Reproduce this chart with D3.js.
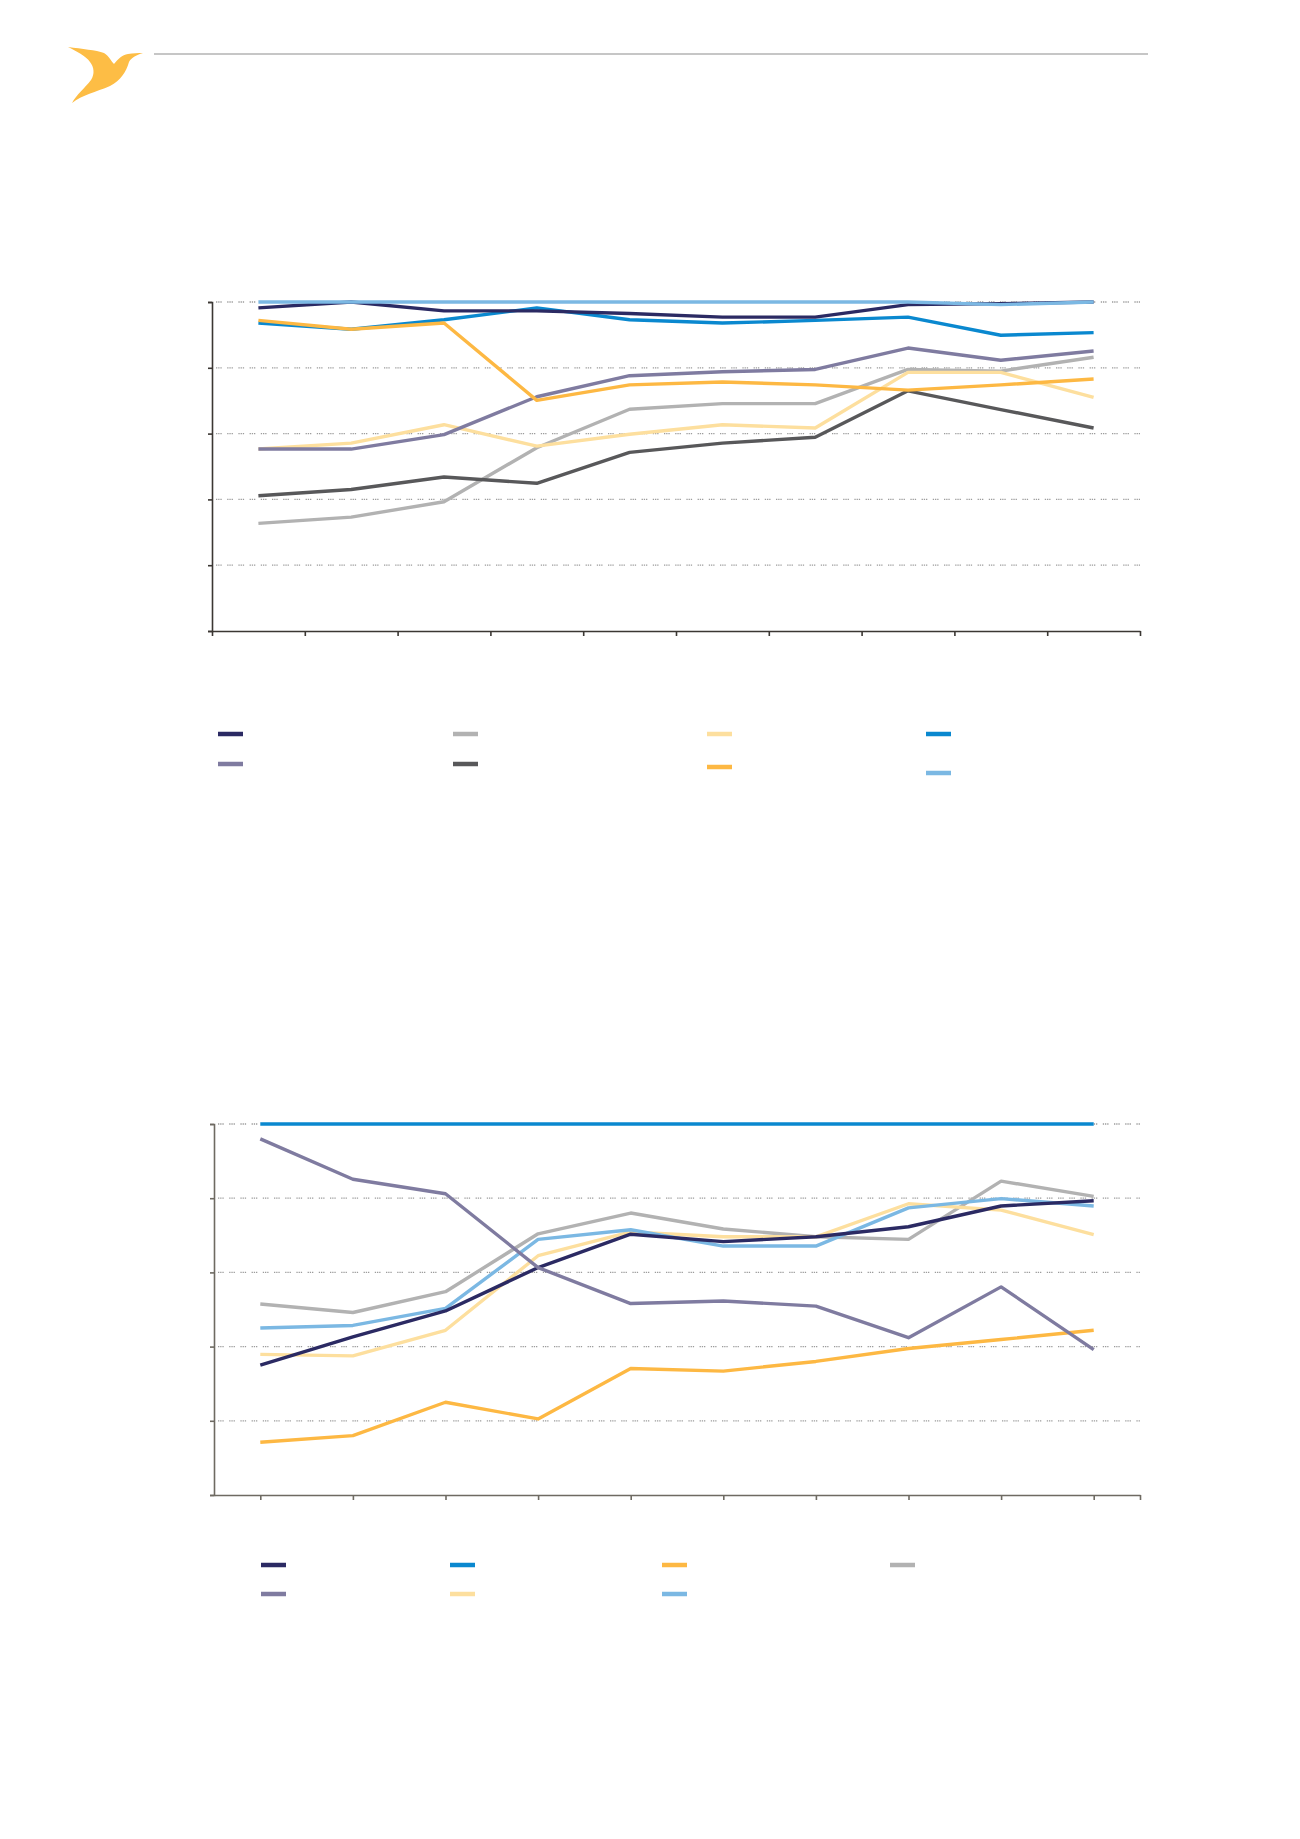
<!DOCTYPE html>
<html>
<head>
<meta charset="utf-8">
<script src="https://cdn.jsdelivr.net/npm/d3@7"></script>
<style>
  html, body { margin: 0; padding: 0; background: #ffffff; }
  svg { display: block; font-family: "Open Sans", "Noto Sans", sans-serif; }
</style>
</head>
<body>
<svg id="page" width="1300" height="1839"></svg>
<script>
// ---------- Data ----------
const periods = ["1", "2", "3", "4", "5", "6", "7", "8", "9", "10"];
const gridTicks = [0, 20, 40, 60, 80, 100];

// Chart 1 series (0–100 scale)
const c1Navy      = [98.2, 100, 97.3, 97.3, 96.5, 95.4, 95.4, 99.2, 99.5, 100];
const c1Purple    = [55.3, 55.3, 59.7, 71.2, 77.6, 78.8, 79.5, 86.0, 82.3, 85.1];
const c1LightGray = [32.7, 34.6, 39.3, 55.7, 67.4, 69.1, 69.1, 79.5, 79.0, 83.2];
const c1DarkGray  = [41.1, 43.0, 46.8, 44.9, 54.3, 57.1, 58.9, 73.0, 67.3, 61.7];
const c1PaleYel   = [55.3, 57.1, 62.7, 56.2, 59.8, 62.7, 61.7, 78.6, 78.6, 71.0];
const c1Orange    = [94.4, 91.7, 93.6, 70.1, 74.8, 75.7, 74.8, 73.2, 74.8, 76.6];
const c1Blue      = [93.6, 91.7, 94.6, 98.2, 94.6, 93.6, 94.4, 95.4, 89.9, 90.7];
const c1LightBlue = [100, 100, 100, 100, 100, 100, 100, 100, 99.2, 100];

// Chart 2 series
const c2Navy      = [35.0, 42.6, 49.6, 61.3, 70.3, 68.3, 69.6, 72.3, 77.9, 79.3];
const c2Purple    = [96.0, 85.1, 81.2, 61.3, 51.6, 52.3, 50.9, 42.4, 56.1, 39.2];
const c2Blue      = [100, 100, 100, 100, 100, 100, 100, 100, 100, 100];
const c2PaleYel   = [37.9, 37.5, 44.4, 64.5, 70.9, 69.6, 69.6, 78.5, 76.8, 70.2];
const c2Orange    = [14.2, 16.0, 25.0, 20.5, 34.1, 33.4, 36.0, 39.5, 41.9, 44.4];
const c2LightBlue = [45.0, 45.7, 50.3, 68.9, 71.5, 67.1, 67.1, 77.4, 79.9, 77.9];
const c2LightGray = [51.5, 49.2, 54.8, 70.4, 76.0, 71.7, 69.6, 68.9, 84.6, 80.5];

// ---------- Styles ----------
const COL = {
  navy: "#2b2a63", purple: "#7f7ba0", lightGray: "#b2b2b2", darkGray: "#58585a",
  paleYel: "#fddf9e", orange: "#fdb843", blue: "#0a88cf", lightBlue: "#7bb8e3"
};

const svg = d3.select("#page");

// ---------- Header ----------
svg.append("path")
  .attr("d", "M68,47 C82,49 96,50 104,53 C109,56 111,61 114,64 C118,59 122,55 128,54 C133,53 138,53 143,53 C136,55 131,58 129,62 C126,72 121,80 110,86 C96,92 82,95 72,103 C76,95 85,88 91,80 C95,74 94,67 90,62 C86,56 76,51 68,47 Z")
  .attr("fill", "#fdbd45");
svg.append("line")
  .attr("x1", 154).attr("x2", 1148).attr("y1", 54).attr("y2", 54)
  .attr("stroke", "#b3b3b3").attr("stroke-width", 1.5);

// ---------- Chart builder ----------
function drawChart(cfg) {
  const g = svg.append("g");
  const x = d3.scaleBand().domain(periods).range([cfg.left, cfg.right]);
  const y = d3.scaleLinear().domain([0, 100]).range([cfg.bottom, cfg.top]);

  // gridlines
  g.selectAll("line.grid").data(gridTicks.filter(t => t > 0)).join("line")
    .attr("class", "grid")
    .attr("x1", cfg.left + 4).attr("x2", cfg.right)
    .attr("y1", d => y(d)).attr("y2", d => y(d))
    .attr("stroke", "#9c9c9c").attr("stroke-width", 1.3)
    .attr("stroke-dasharray", "1.3,0.9,1.3,0.9,1.3,5.5");

  // y axis
  const yAxis = d3.axisLeft(y).tickValues(gridTicks).tickSize(4).tickFormat("");
  const ya = g.append("g").attr("transform", `translate(${cfg.left},0)`).call(yAxis);
  ya.selectAll("path, line").attr("stroke", cfg.axisColor).attr("stroke-width", 1.6);

  // x axis
  const lin = d3.scaleLinear().domain([cfg.left, cfg.right]).range([cfg.left, cfg.right]);
  const tickXs = cfg.ticksAtPoints
    ? periods.map(p => x(p) + x.bandwidth() / 2).concat([cfg.right])
    : periods.map(p => x(p)).concat([cfg.right]);
  const xAxis = d3.axisBottom(lin).tickValues(tickXs).tickSize(5).tickSizeOuter(0).tickFormat("");
  const xa = g.append("g").attr("transform", `translate(0,${cfg.bottom})`).call(xAxis);
  xa.selectAll("path, line").attr("stroke", cfg.axisColor).attr("stroke-width", 1.6);

  // lines
  const line = d3.line()
    .x((d, i) => x(periods[i]) + x.bandwidth() / 2)
    .y(d => y(d));
  cfg.series.forEach(s => {
    g.append("path").datum(s.values)
      .attr("d", line)
      .attr("fill", "none")
      .attr("stroke", s.color)
      .attr("stroke-width", 3.4)
      .attr("stroke-linejoin", "round");
  });

  // legend swatches
  cfg.legend.forEach(l => {
    g.append("line")
      .attr("x1", l.x).attr("x2", l.x + 25)
      .attr("y1", l.y).attr("y2", l.y)
      .attr("stroke", l.color).attr("stroke-width", 4.5);
  });
}

drawChart({
  left: 212, right: 1140, top: 302, bottom: 631,
  axisColor: "#3b3733", ticksAtPoints: false,
  series: [
    { values: c1LightGray, color: COL.lightGray },
    { values: c1DarkGray, color: COL.darkGray },
    { values: c1PaleYel, color: COL.paleYel },
    { values: c1Purple, color: COL.purple },
    { values: c1Blue, color: COL.blue },
    { values: c1Orange, color: COL.orange },
    { values: c1Navy, color: COL.navy },
    { values: c1LightBlue, color: COL.lightBlue }
  ],
  legend: [
    { x: 218, y: 734, color: COL.navy },
    { x: 218, y: 764, color: COL.purple },
    { x: 453, y: 734, color: COL.lightGray },
    { x: 453, y: 764, color: COL.darkGray },
    { x: 707, y: 734, color: COL.paleYel },
    { x: 707, y: 767, color: COL.orange },
    { x: 926, y: 734, color: COL.blue },
    { x: 926, y: 773, color: COL.lightBlue }
  ]
});

drawChart({
  left: 214, right: 1140, top: 1124, bottom: 1495,
  axisColor: "#6e6a62", ticksAtPoints: true,
  series: [
    { values: c2Orange, color: COL.orange },
    { values: c2LightGray, color: COL.lightGray },
    { values: c2PaleYel, color: COL.paleYel },
    { values: c2LightBlue, color: COL.lightBlue },
    { values: c2Navy, color: COL.navy },
    { values: c2Purple, color: COL.purple },
    { values: c2Blue, color: COL.blue }
  ],
  legend: [
    { x: 261, y: 1565, color: COL.navy },
    { x: 261, y: 1594, color: COL.purple },
    { x: 450, y: 1565, color: COL.blue },
    { x: 450, y: 1594, color: COL.paleYel },
    { x: 662, y: 1565, color: COL.orange },
    { x: 662, y: 1594, color: COL.lightBlue },
    { x: 890, y: 1565, color: COL.lightGray }
  ]
});
</script>
</body>
</html>
